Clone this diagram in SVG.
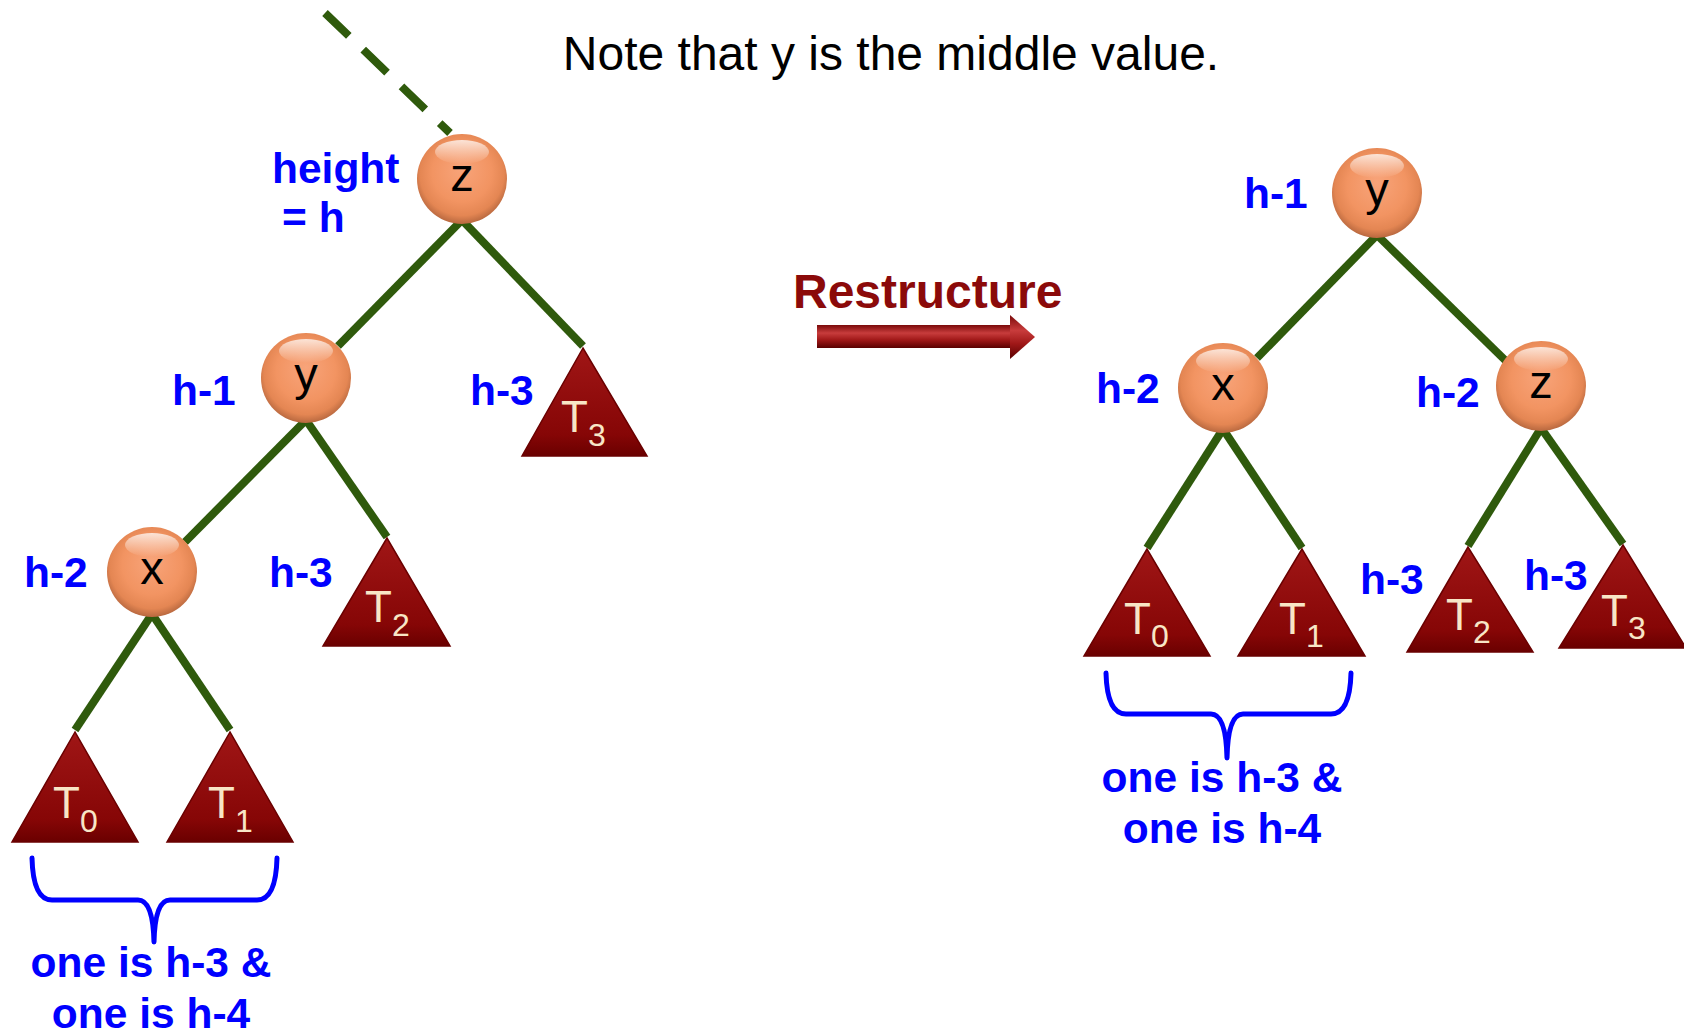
<svg xmlns="http://www.w3.org/2000/svg" width="1684" height="1032" viewBox="0 0 1684 1032">
<defs>
<radialGradient id="ball" cx="50%" cy="45%" r="55%" fx="50%" fy="38%">
<stop offset="0%" stop-color="#F8A47A"/>
<stop offset="60%" stop-color="#F29462"/>
<stop offset="85%" stop-color="#E48653"/>
<stop offset="100%" stop-color="#B8683F"/>
</radialGradient>
<linearGradient id="shine" x1="0" y1="0" x2="0" y2="1">
<stop offset="0%" stop-color="#FFFFFF" stop-opacity="0.75"/>
<stop offset="100%" stop-color="#FFFFFF" stop-opacity="0"/>
</linearGradient>
<linearGradient id="tri" x1="0" y1="0" x2="0" y2="1">
<stop offset="0%" stop-color="#A01616"/>
<stop offset="80%" stop-color="#860606"/>
<stop offset="100%" stop-color="#6A0000"/>
</linearGradient>
<linearGradient id="arrowG" x1="0" y1="0" x2="0" y2="1">
<stop offset="0%" stop-color="#7A0A0A"/>
<stop offset="35%" stop-color="#C83C3C"/>
<stop offset="65%" stop-color="#A01818"/>
<stop offset="100%" stop-color="#5A0000"/>
</linearGradient>
<style>
.edge{stroke:#2F5A0C;stroke-width:8;fill:none;stroke-linecap:butt}
.lbl{font-family:"Liberation Sans",Arial,sans-serif;font-weight:bold;font-size:42.5px;fill:#0000FF}
.nl{font-family:"Liberation Sans",Arial,sans-serif;font-size:47px;fill:#000;text-anchor:middle}
.tl{font-family:"Liberation Sans",Arial,sans-serif;font-size:44px;fill:#F8E6C6}
.ts{font-size:32px}
.trif{fill:url(#tri);stroke:#6A0000;stroke-width:1.5;stroke-linejoin:miter}
.brace{stroke:#0000FF;stroke-width:5;fill:none;stroke-linecap:round;stroke-linejoin:round}
</style>
</defs>
<rect width="1684" height="1032" fill="#FFFFFF"/>

<text x="891" y="70" text-anchor="middle" font-family="Liberation Sans, Arial, sans-serif" font-size="48" fill="#000">Note that y is the middle value.</text>

<g id="connectors">
<path class="edge" d="M325,13 L450,133" stroke-dasharray="33 20"/>
<path class="edge" d="M462,220 L338,346"/>
<path class="edge" d="M462,220 L583,346"/>
<path class="edge" d="M306,420 L185,542"/>
<path class="edge" d="M306,420 L387,537"/>
<path class="edge" d="M152,614 L75,730"/>
<path class="edge" d="M152,614 L230,730"/>
<path class="edge" d="M1377,235 L1257,358"/>
<path class="edge" d="M1377,235 L1507,362"/>
<path class="edge" d="M1223,429 L1147,548"/>
<path class="edge" d="M1223,429 L1302,548"/>
<path class="edge" d="M1541,428 L1468,546"/>
<path class="edge" d="M1541,428 L1623,544"/>
</g>

<g id="node-z-left">
<circle cx="462" cy="179" r="45" fill="url(#ball)"/>
<ellipse cx="462" cy="152" rx="27" ry="12" fill="url(#shine)"/>
<text class="nl" x="462" y="191">z</text>
</g>
<g id="node-y-left">
<circle cx="306" cy="378" r="45" fill="url(#ball)"/>
<ellipse cx="306" cy="351" rx="27" ry="12" fill="url(#shine)"/>
<text class="nl" x="306" y="390">y</text>
</g>
<g id="node-x-left">
<circle cx="152" cy="572" r="45" fill="url(#ball)"/>
<ellipse cx="152" cy="545" rx="27" ry="12" fill="url(#shine)"/>
<text class="nl" x="152" y="584">x</text>
</g>

<g id="node-T0-left">
<polygon class="trif" points="75,732 12,842 138,842"/>
<text class="tl" x="53" y="818">T<tspan class="ts" dy="14">0</tspan></text>
</g>
<g id="node-T1-left">
<polygon class="trif" points="230,732 167,842 293,842"/>
<text class="tl" x="208" y="818">T<tspan class="ts" dy="14">1</tspan></text>
</g>
<g id="node-T2-left">
<polygon class="trif" points="387,538 323,646 450,646"/>
<text class="tl" x="365" y="622">T<tspan class="ts" dy="14">2</tspan></text>
</g>
<g id="node-T3-left">
<polygon class="trif" points="583,348 522,456 647,456"/>
<text class="tl" x="561" y="432">T<tspan class="ts" dy="14">3</tspan></text>
</g>

<g id="labels-left">
<text class="lbl" x="272" y="183">height</text>
<text class="lbl" x="282" y="232">= h</text>
<text class="lbl" x="172" y="405">h-1</text>
<text class="lbl" x="470" y="405">h-3</text>
<text class="lbl" x="24" y="587">h-2</text>
<text class="lbl" x="269" y="587">h-3</text>
</g>

<g id="brace-left">
<path class="brace" d="M32,858 Q33,900 52,900 L138,900 Q153,900 154,942 Q155,900 170,900 L257,900 Q276,900 277,858"/>
<text class="lbl" x="151" y="977" text-anchor="middle">one is h-3 &amp;</text>
<text class="lbl" x="151" y="1028" text-anchor="middle">one is h-4</text>
</g>

<g id="restructure">
<text x="793" y="308" font-family="Liberation Sans, Arial, sans-serif" font-weight="bold" font-size="48" fill="#8B0A0A">Restructure</text>
<rect x="817" y="325" width="195" height="23" fill="url(#arrowG)"/>
<polygon points="1010,315 1035,337 1010,359" fill="url(#arrowG)"/>
</g>

<g id="node-y-right">
<circle cx="1377" cy="193" r="45" fill="url(#ball)"/>
<ellipse cx="1377" cy="166" rx="27" ry="12" fill="url(#shine)"/>
<text class="nl" x="1377" y="205">y</text>
</g>
<g id="node-x-right">
<circle cx="1223" cy="388" r="45" fill="url(#ball)"/>
<ellipse cx="1223" cy="361" rx="27" ry="12" fill="url(#shine)"/>
<text class="nl" x="1223" y="400">x</text>
</g>
<g id="node-z-right">
<circle cx="1541" cy="386" r="45" fill="url(#ball)"/>
<ellipse cx="1541" cy="359" rx="27" ry="12" fill="url(#shine)"/>
<text class="nl" x="1541" y="398">z</text>
</g>

<g id="node-T0-right">
<polygon class="trif" points="1147,549 1084,656 1210,656"/>
<text class="tl" x="1124" y="634">T<tspan class="ts" dy="13">0</tspan></text>
</g>
<g id="node-T1-right">
<polygon class="trif" points="1302,549 1238,656 1365,656"/>
<text class="tl" x="1279" y="634">T<tspan class="ts" dy="13">1</tspan></text>
</g>
<g id="node-T2-right">
<polygon class="trif" points="1468,547 1407,652 1533,652"/>
<text class="tl" x="1446" y="630">T<tspan class="ts" dy="13">2</tspan></text>
</g>
<g id="node-T3-right">
<polygon class="trif" points="1623,545 1559,648 1686,648"/>
<text class="tl" x="1601" y="626">T<tspan class="ts" dy="13">3</tspan></text>
</g>

<g id="labels-right">
<text class="lbl" x="1244" y="208">h-1</text>
<text class="lbl" x="1096" y="403">h-2</text>
<text class="lbl" x="1416" y="407">h-2</text>
<text class="lbl" x="1360" y="594">h-3</text>
<text class="lbl" x="1524" y="590">h-3</text>
</g>

<g id="brace-right">
<path class="brace" d="M1106,673 Q1107,714 1126,714 L1211,714 Q1226,714 1227,758 Q1228,714 1243,714 L1331,714 Q1350,714 1351,673"/>
<text class="lbl" x="1222" y="792" text-anchor="middle">one is h-3 &amp;</text>
<text class="lbl" x="1222" y="843" text-anchor="middle">one is h-4</text>
</g>
</svg>
